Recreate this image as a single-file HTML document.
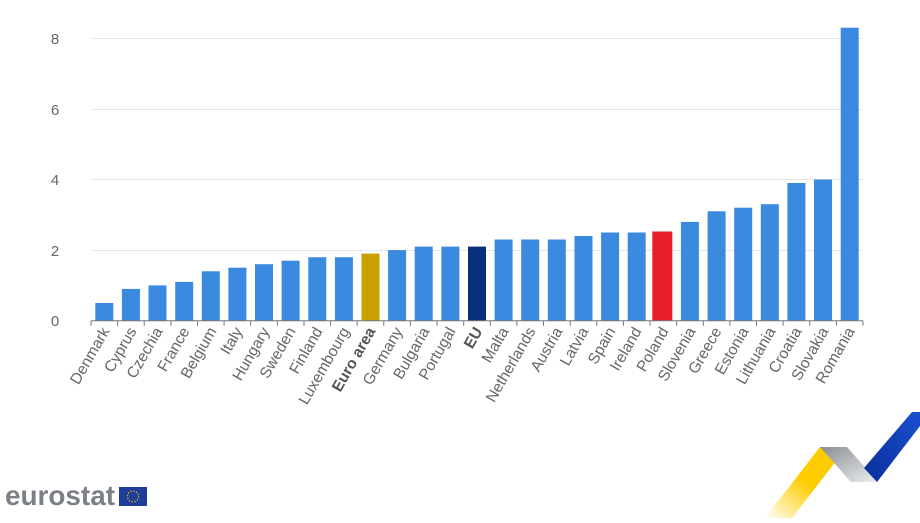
<!DOCTYPE html>
<html><head><meta charset="utf-8"><style>
html,body{margin:0;padding:0;background:#fff;}
svg{display:block;font-family:"Liberation Sans",sans-serif;}
</style></head><body>
<svg width="920" height="523" viewBox="0 0 920 523" xmlns="http://www.w3.org/2000/svg">
<g stroke="#e3e6ea" stroke-width="1">
<line x1="91" x2="863" y1="38.5" y2="38.5"/>
<line x1="91" x2="863" y1="109.5" y2="109.5"/>
<line x1="91" x2="863" y1="179.5" y2="179.5"/>
<line x1="91" x2="863" y1="250.5" y2="250.5"/>
</g>
<g fill="#666" font-size="15" text-anchor="middle">
<text x="55" y="44">8</text><text x="55" y="115">6</text><text x="55" y="185">4</text><text x="55" y="256">2</text><text x="55" y="326">0</text>
</g>
<g fill="#3a8ae0">
<rect x="95.3" y="303.0" width="18" height="17.7"/>
<rect x="121.9" y="288.9" width="18" height="31.8"/>
<rect x="148.5" y="285.4" width="18" height="35.3"/>
<rect x="175.2" y="281.9" width="18" height="38.8"/>
<rect x="201.8" y="271.3" width="18" height="49.4"/>
<rect x="228.4" y="267.7" width="18" height="53.0"/>
<rect x="255.0" y="264.2" width="18" height="56.5"/>
<rect x="281.6" y="260.7" width="18" height="60.0"/>
<rect x="308.3" y="257.2" width="18" height="63.5"/>
<rect x="334.9" y="257.2" width="18" height="63.5"/>
<rect x="361.5" y="253.6" width="18" height="67.1" fill="#c9a000"/>
<rect x="388.1" y="250.1" width="18" height="70.6"/>
<rect x="414.7" y="246.6" width="18" height="74.1"/>
<rect x="441.4" y="246.6" width="18" height="74.1"/>
<rect x="468.0" y="246.6" width="18" height="74.1" fill="#0b2e7a"/>
<rect x="494.6" y="239.5" width="18" height="81.2"/>
<rect x="521.2" y="239.5" width="18" height="81.2"/>
<rect x="547.8" y="239.5" width="18" height="81.2"/>
<rect x="574.5" y="236.0" width="18" height="84.7"/>
<rect x="601.1" y="232.5" width="18" height="88.2"/>
<rect x="627.7" y="232.5" width="18" height="88.2"/>
<rect x="652.3" y="231.5" width="20" height="89.2" fill="#e8202a"/>
<rect x="680.9" y="221.9" width="18" height="98.8"/>
<rect x="707.6" y="211.3" width="18" height="109.4"/>
<rect x="734.2" y="207.7" width="18" height="113.0"/>
<rect x="760.8" y="204.2" width="18" height="116.5"/>
<rect x="787.4" y="183.0" width="18" height="137.7"/>
<rect x="814.0" y="179.5" width="18" height="141.2"/>
<rect x="840.7" y="27.7" width="18" height="293.0"/>
</g>
<line x1="91" x2="863" y1="320.7" y2="320.7" stroke="#777" stroke-width="1"/>
<g stroke="#777" stroke-width="1">
<path d="M91 320.7v5M117.6 320.7v5M144.2 320.7v5M170.9 320.7v5M197.5 320.7v5M224.1 320.7v5M250.7 320.7v5M277.3 320.7v5M304 320.7v5M330.6 320.7v5M357.2 320.7v5M383.8 320.7v5M410.4 320.7v5M437.1 320.7v5M463.7 320.7v5M490.3 320.7v5M516.9 320.7v5M543.5 320.7v5M570.2 320.7v5M596.8 320.7v5M623.4 320.7v5M650 320.7v5M676.6 320.7v5M703.3 320.7v5M729.9 320.7v5M756.5 320.7v5M783.1 320.7v5M809.7 320.7v5M836.4 320.7v5M863 320.7v5"/>
</g>
<g fill="#666" font-size="15.5" text-anchor="end">
<text transform="translate(110,331) rotate(-60)">Denmark</text>
<text transform="translate(137,331) rotate(-60)">Cyprus</text>
<text transform="translate(163,331) rotate(-60)">Czechia</text>
<text transform="translate(190,331) rotate(-60)">France</text>
<text transform="translate(217,331) rotate(-60)">Belgium</text>
<text transform="translate(243,331) rotate(-60)">Italy</text>
<text transform="translate(270,331) rotate(-60)">Hungary</text>
<text transform="translate(296,331) rotate(-60)">Sweden</text>
<text transform="translate(323,331) rotate(-60)">Finland</text>
<text transform="translate(350,331) rotate(-60)">Luxembourg</text>
<text transform="translate(376,331) rotate(-60)" font-weight="bold" fill="#555">Euro area</text>
<text transform="translate(403,331) rotate(-60)">Germany</text>
<text transform="translate(430,331) rotate(-60)">Bulgaria</text>
<text transform="translate(456,331) rotate(-60)">Portugal</text>
<text transform="translate(483,331) rotate(-60)" font-weight="bold" fill="#555">EU</text>
<text transform="translate(509,331) rotate(-60)">Malta</text>
<text transform="translate(536,331) rotate(-60)">Netherlands</text>
<text transform="translate(563,331) rotate(-60)">Austria</text>
<text transform="translate(589,331) rotate(-60)">Latvia</text>
<text transform="translate(616,331) rotate(-60)">Spain</text>
<text transform="translate(642,331) rotate(-60)">Ireland</text>
<text transform="translate(669,331) rotate(-60)">Poland</text>
<text transform="translate(696,331) rotate(-60)">Slovenia</text>
<text transform="translate(722,331) rotate(-60)">Greece</text>
<text transform="translate(749,331) rotate(-60)">Estonia</text>
<text transform="translate(776,331) rotate(-60)">Lithuania</text>
<text transform="translate(802,331) rotate(-60)">Croatia</text>
<text transform="translate(829,331) rotate(-60)">Slovakia</text>
<text transform="translate(855,331) rotate(-60)">Romania</text>
</g>
<defs>
<linearGradient id="yg" x1="0" y1="1" x2="1" y2="0"><stop offset="0" stop-color="#ffd000" stop-opacity="0"/><stop offset="0.5" stop-color="#ffcc00"/><stop offset="1" stop-color="#ffcc00"/></linearGradient>
<linearGradient id="gg" x1="0" y1="0" x2="1" y2="1"><stop offset="0" stop-color="#8a8d92"/><stop offset="1" stop-color="#eceef0"/></linearGradient>
<linearGradient id="bg" x1="0" y1="1" x2="1" y2="0"><stop offset="0" stop-color="#0a2e9a"/><stop offset="1" stop-color="#1a4fd0"/></linearGradient>
</defs>
<polygon points="765,518 820,447 847,447 792,518" fill="url(#yg)"/>
<polygon points="820,447 847,447 878,482 851,482" fill="url(#gg)"/>
<polygon points="864,468 912,412 920,412 920,426 877,482" fill="url(#bg)"/>
<text x="5" y="505" font-size="28" font-weight="bold" fill="#7b7f86" textLength="110" lengthAdjust="spacingAndGlyphs">eurostat</text>
<rect x="119" y="487" width="28" height="19" fill="#1f3e99"/>
<circle cx="133" cy="496.5" r="5.5" fill="none" stroke="#ffcc00" stroke-width="1.2" stroke-dasharray="1.2 1.7"/>
</svg>
</body></html>
